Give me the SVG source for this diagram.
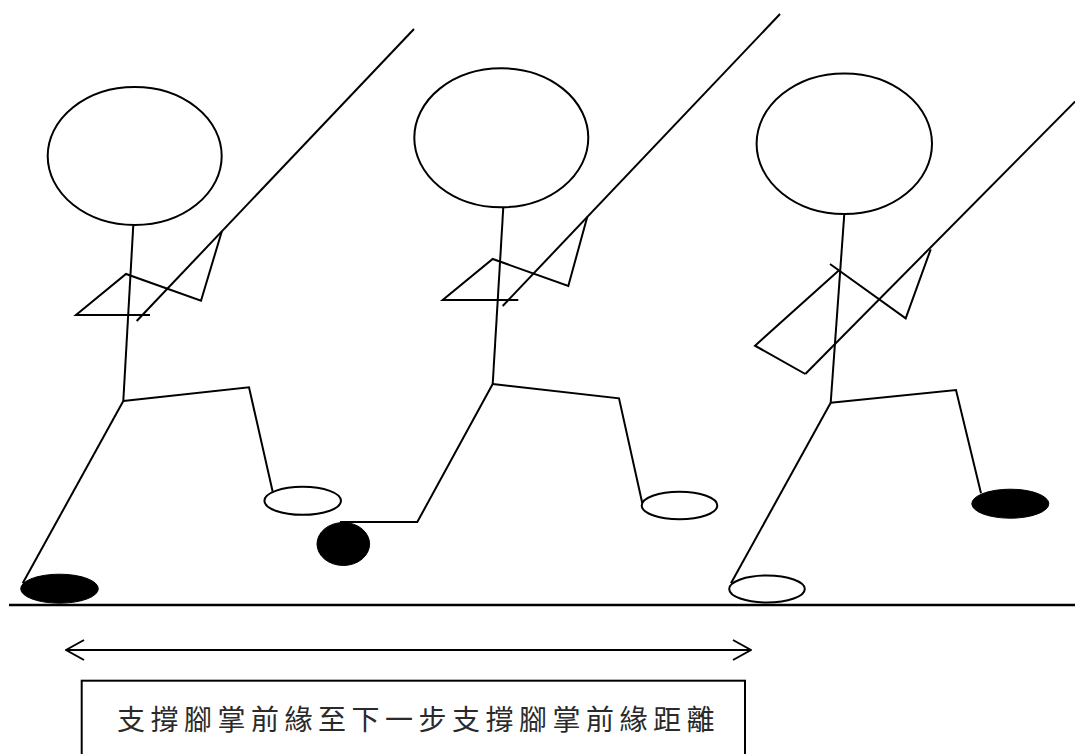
<svg xmlns="http://www.w3.org/2000/svg" width="1075" height="754" viewBox="0 0 1075 754">
  <defs>
    <style>
      .ln { fill: none; stroke: #000; stroke-width: 2; stroke-linejoin: miter; stroke-linecap: butt; }
      .head { fill: #fff; stroke: #000; stroke-width: 2; }
      .foot-open { fill: #fff; stroke: #000; stroke-width: 2; }
      .foot-solid { fill: #000; stroke: #000; stroke-width: 1; }
      .label { font-family: "Noto Sans CJK TC", "Noto Sans CJK SC", sans-serif; font-size: 28px; font-weight: 400; fill: #2a2a2a; letter-spacing: 5.5px; }
    </style>
    <marker id="chevron" viewBox="0 0 20 24" refX="19" refY="12" markerWidth="20" markerHeight="24" markerUnits="userSpaceOnUse" orient="auto-start-reverse">
      <path d="M1,2 L19,12 L1,22" fill="none" stroke="#000" stroke-width="2"/>
    </marker>
  </defs>

  <rect width="1075" height="754" fill="#fff"/>

  <!-- runner 1 -->
  <g id="runner1">
    <ellipse class="head" cx="134.7" cy="156" rx="87" ry="69"/>
    <polyline class="ln" points="133.3,225 123.3,401"/>
    <polyline class="ln" points="150,315 76,315 126,274 201,300.7 221.7,231.7"/>
    <line class="ln" x1="414" y1="29" x2="136.7" y2="321"/>
    <polyline class="ln" points="123.3,401 249,387.3 272.7,491.7"/>
    <polyline class="ln" points="123.3,401 22.7,583.3"/>
    <ellipse class="foot-open" cx="302.7" cy="500.8" rx="38.3" ry="14"/>
    <ellipse class="foot-solid" cx="59.5" cy="588.7" rx="38.8" ry="14.5"/>
  </g>

  <!-- runner 2 -->
  <g id="runner2">
    <ellipse class="head" cx="501.3" cy="137.8" rx="87" ry="69.5"/>
    <polyline class="ln" points="503.3,207.3 492.7,384"/>
    <polyline class="ln" points="518.3,300 442.7,300 492.7,259 568.3,286 587.3,216.7"/>
    <line class="ln" x1="780" y1="14" x2="502.7" y2="306"/>
    <polyline class="ln" points="492.7,384 619,398.3 642.3,503.3"/>
    <polyline class="ln" points="492.7,384 417.3,522 340,522"/>
    <ellipse class="foot-open" cx="679.5" cy="505.5" rx="37.8" ry="13.8"/>
    <ellipse class="foot-solid" cx="343.3" cy="544" rx="26.3" ry="21.5"/>
  </g>

  <!-- runner 3 -->
  <g id="runner3">
    <ellipse class="head" cx="844.3" cy="143.7" rx="87.7" ry="70.3"/>
    <polyline class="ln" points="844.3,214 830.7,402.7"/>
    <polyline class="ln" points="830,264 905.7,318.3 930.7,249.3"/>
    <polyline class="ln" points="839.3,270 755,345.7 805.3,374"/>
    <line class="ln" x1="1080" y1="96.5" x2="805.3" y2="374"/>
    <polyline class="ln" points="830.7,402.7 956,390 981,493.3"/>
    <polyline class="ln" points="830.7,402.7 731,583.3"/>
    <ellipse class="foot-solid" cx="1010.3" cy="503.7" rx="38.5" ry="14.5"/>
    <ellipse class="foot-open" cx="767" cy="589" rx="37.8" ry="13.5"/>
  </g>

  <!-- ground -->
  <g id="ground">
    <line x1="9" y1="605" x2="1075" y2="605" stroke="#000" stroke-width="2.5"/>
  </g>

  <!-- distance indicator -->
  <g id="connectors">
    <line x1="66" y1="650" x2="751" y2="650" stroke="#000" stroke-width="2" marker-start="url(#chevron)" marker-end="url(#chevron)"/>
  </g>

  <!-- caption -->
  <g id="caption">
    <rect x="81.7" y="680.7" width="663.3" height="90" fill="#fff" stroke="#000" stroke-width="2"/>
    <text class="label" x="117" y="730">支撐腳掌前緣至下一步支撐腳掌前緣距離</text>
  </g>
</svg>
